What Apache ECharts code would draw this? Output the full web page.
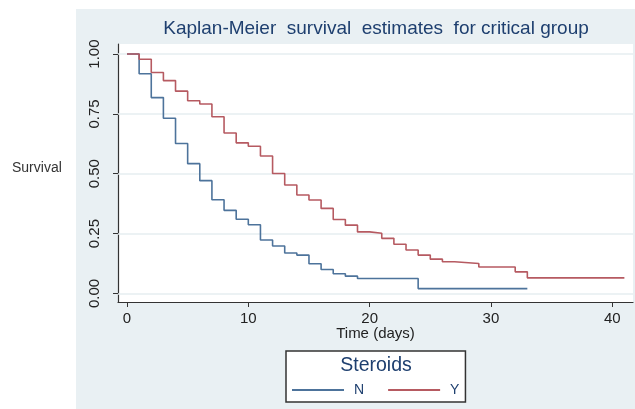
<!DOCTYPE html>
<html>
<head>
<meta charset="utf-8">
<script src="https://cdn.jsdelivr.net/npm/echarts@6/dist/echarts.min.js"></script>
<style>
  html, body { margin: 0; padding: 0; background: #fff; }
  #chart { width: 635px; height: 409px; }
</style>
</head>
<body>
<div id="chart"></div>
<script>
  // Kaplan-Meier estimates (time in days, survival)
  var timeN = [0, 1, 2, 3, 4, 5, 6, 7, 8, 9, 10, 11, 12, 13, 14, 15, 16, 17, 18, 19, 24, 33];
  var survN = [1, 0.918, 0.818, 0.732, 0.626, 0.542, 0.471, 0.391, 0.347, 0.31, 0.287, 0.223,
               0.198, 0.169, 0.16, 0.124, 0.1, 0.082, 0.072, 0.062, 0.02, 0.02];
  var timeY = [0, 1, 2, 3, 4, 5, 6, 7, 8, 9, 10, 11, 12, 13, 14, 15, 16, 17, 18, 19, 20,
               21, 22, 23, 24, 25, 26, 27, 29, 32, 33, 41];
  var survY = [1, 0.978, 0.923, 0.889, 0.845, 0.805, 0.791, 0.738, 0.67, 0.629, 0.615, 0.574,
               0.501, 0.453, 0.411, 0.39, 0.355, 0.309, 0.285, 0.257, 0.251, 0.23, 0.205,
               0.181, 0.16, 0.143, 0.132, 0.125, 0.11, 0.09, 0.065, 0.065];
  var xTicks = [0, 10, 20, 30, 40];
  var yTicks = [0, 0.25, 0.5, 0.75, 1];
  var groups = ['N', 'Y'];

  var font = 'Liberation Sans, Arial, sans-serif';
  var navy = '#1e3f6f';

  function pairs(xs, ys) {
    return xs.map(function (x, i) { return [x, ys[i]]; });
  }

  var chart = echarts.init(document.getElementById('chart'));
  chart.setOption({
    animation: false,
    backgroundColor: '#fff',
    textStyle: { fontFamily: font },
    title: {
      text: 'Kaplan-Meier  survival  estimates  for critical group',
      left: 371,
      textAlign: 'center',
      top: 14,
      textStyle: { fontSize: 19, fontWeight: 'normal', color: navy, fontFamily: font }
    },
    graphic: [
      { type: 'rect', z: -10, shape: { x: 76, y: 9, width: 559, height: 400 },
        style: { fill: '#e9f0f3' } },
      { type: 'text', x: 12, y: 168,
        style: { text: 'Survival', fontSize: 14, fill: '#333', fontFamily: font, textVerticalAlign: 'middle' } },
      { type: 'text', z: 100, x: 376, y: 366,
        style: { text: 'Steroids', fontSize: 19.5, fill: navy, fontFamily: font,
                 textAlign: 'center', textVerticalAlign: 'middle' } }
    ],
    legend: {
      data: groups,
      left: 286,
      top: 351,
      padding: [32, 6, 5, 6],
      itemGap: 24,
      itemWidth: 52,
      itemHeight: 2,
      icon: 'rect',
      backgroundColor: '#fff',
      borderColor: '#333',
      borderWidth: 1.5,
      borderRadius: 0,
      textStyle: { fontSize: 14, color: navy, fontFamily: font, padding: [0, 0, 0, 5] }
    },
    grid: { left: 118, right: 2, top: 44, bottom: 107, show: true, backgroundColor: '#fff', borderWidth: 0 },
    xAxis: {
      type: 'value',
      min: -0.742,
      max: 41.71,
      name: 'Time (days)',
      nameLocation: 'middle',
      nameGap: 24,
      nameMoveOverlap: false,
      nameTextStyle: { fontSize: 15, color: '#222', fontFamily: font },
      axisLine: { show: true, onZero: false, lineStyle: { color: '#333', width: 1.2 } },
      axisTick: { show: true, customValues: xTicks, length: 5, lineStyle: { color: '#333' } },
      axisLabel: { customValues: xTicks, fontSize: 15, color: '#222', margin: 9, fontFamily: font },
      splitLine: { show: false }
    },
    yAxis: {
      type: 'value',
      min: -0.036,
      max: 1.042,
      axisLine: { show: true, onZero: false, lineStyle: { color: '#333', width: 1.2 } },
      axisTick: { show: true, customValues: yTicks, length: 5, lineStyle: { color: '#333' } },
      axisLabel: {
        customValues: yTicks,
        rotate: 90,
        fontSize: 15,
        color: '#222',
        margin: 16,
        fontFamily: font,
        formatter: function (v) { return v.toFixed(2); }
      },
      splitLine: { show: false }
    },
    series: [
      {
        name: 'grid',
        type: 'line',
        data: [],
        silent: true,
        markLine: {
          silent: true,
          symbol: 'none',
          label: { show: false },
          lineStyle: { color: '#e6eef1', width: 1.5, type: 'solid' },
          data: yTicks.map(function (v) { return { yAxis: v }; })
        }
      },
      {
        name: groups[0],
        type: 'line',
        step: 'end',
        showSymbol: false,
        zlevel: 1,
        color: '#4d739b',
        lineStyle: { width: 1.6 },
        data: pairs(timeN, survN)
      },
      {
        name: groups[1],
        type: 'line',
        step: 'end',
        showSymbol: false,
        zlevel: 1,
        color: '#b65a61',
        lineStyle: { width: 1.6 },
        data: pairs(timeY, survY)
      }
    ]
  });
</script>
</body>
</html>
